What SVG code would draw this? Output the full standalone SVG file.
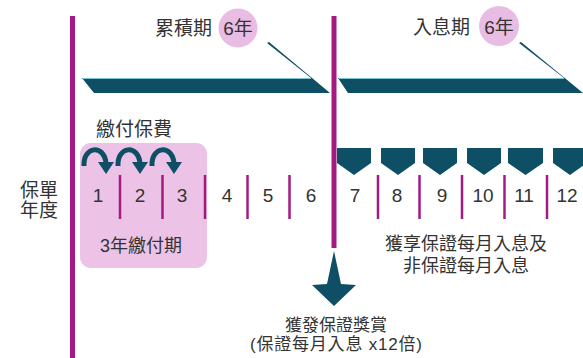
<svg xmlns="http://www.w3.org/2000/svg" width="583" height="358" viewBox="0 0 583 358">
<defs>
<style>
text{font-family:"Liberation Sans","Noto Sans CJK TC",sans-serif;fill:#333;}
.lbl{font-size:19px;}
.num{font-size:19px;text-anchor:middle;}
.cap{font-size:18px;text-anchor:middle;}
.cap2{font-size:17px;text-anchor:middle;}
.teal{fill:#0e4f66;}
.mag{fill:#a31a82;}
.tick{stroke:#a31a82;stroke-width:2.5;}
.circ{fill:#e9bde3;}
.carc{fill:none;stroke:#0e4f66;stroke-width:5;}
</style>
</defs>
<rect width="583" height="358" fill="#fff"/>

<g id="payment-period">
<rect x="80" y="143" width="127" height="125" rx="11" fill="#ecc3e6"/>
<text class="cap" x="141" y="252">3年繳付期</text>
</g>

<g id="timeline-lines">
<rect class="mag" x="70" y="16" width="5" height="342"/>
<rect class="mag" x="331.5" y="16" width="5" height="232"/>
</g>

<g id="accumulation-bar">
<polygon class="teal" points="82,78 311,78 267,43 269,42 330,93 94,93"/>
<line x1="83" y1="78.5" x2="311" y2="78.5" stroke="#7ec3d3" stroke-width="1"/>
<circle class="circ" cx="238" cy="28" r="19.5"/>
<text class="lbl" x="155" y="35">累積期</text>
<text class="lbl" x="238" y="35" text-anchor="middle">6年</text>
</g>

<g id="income-bar">
<polygon class="teal" points="338,78 564,78 519,43 521,42 583,93 348,93"/>
<line x1="339" y1="78.5" x2="564" y2="78.5" stroke="#7ec3d3" stroke-width="1"/>
<circle class="circ" cx="499" cy="26" r="20"/>
<text class="lbl" x="413" y="34">入息期</text>
<text class="lbl" x="499" y="34" text-anchor="middle">6年</text>
</g>

<g id="premium-label">
<text class="lbl" x="96" y="136">繳付保費</text>
</g>

<g id="connectors">
<g id="pay-arrow-1">
<path class="carc" d="M84,166 C83,146 104,144 106,163"/>
<polygon class="teal" points="98,162 114,162 106,174"/>
</g>
<g id="pay-arrow-2" transform="translate(34,0)">
<path class="carc" d="M84,166 C83,146 104,144 106,163"/>
<polygon class="teal" points="98,162 114,162 106,174"/>
</g>
<g id="pay-arrow-3" transform="translate(68,0)">
<path class="carc" d="M84,166 C83,146 104,144 106,163"/>
<polygon class="teal" points="98,162 114,162 106,174"/>
</g>
<polygon id="bonus-arrow" class="teal" points="334,251 341,284 356,285 334,306 312,285 327,284"/>
</g>

<g id="year-axis">
<text class="lbl" x="20" y="197">保單</text>
<text class="lbl" x="20" y="217">年度</text>
<line class="tick" x1="120" y1="175" x2="120" y2="219"/>
<line class="tick" x1="162.5" y1="175" x2="162.5" y2="219"/>
<line class="tick" x1="205" y1="175" x2="205" y2="219"/>
<line class="tick" x1="247.5" y1="175" x2="247.5" y2="219"/>
<line class="tick" x1="289.5" y1="175" x2="289.5" y2="219"/>
<line class="tick" x1="378" y1="175" x2="378" y2="219"/>
<line class="tick" x1="419.5" y1="175" x2="419.5" y2="219"/>
<line class="tick" x1="462" y1="175" x2="462" y2="219"/>
<line class="tick" x1="504.5" y1="175" x2="504.5" y2="219"/>
<line class="tick" x1="547" y1="175" x2="547" y2="219"/>
<text class="num" x="98" y="202">1</text>
<text class="num" x="140" y="202">2</text>
<text class="num" x="182" y="202">3</text>
<text class="num" x="227" y="202">4</text>
<text class="num" x="268" y="202">5</text>
<text class="num" x="311" y="202">6</text>
<text class="num" x="355" y="202">7</text>
<text class="num" x="397" y="202">8</text>
<text class="num" x="442" y="202">9</text>
<text class="num" x="483" y="202">10</text>
<text class="num" x="524" y="202">11</text>
<text class="num" x="567" y="202">12</text>
</g>

<g id="income-markers">
<polygon class="teal" points="337,148 371,148 371,163 354,175 337,163"/>
<polygon class="teal" points="381,148 415,148 415,163 398,175 381,163"/>
<polygon class="teal" points="423,148 457,148 457,163 440,175 423,163"/>
<polygon class="teal" points="467,148 501,148 501,163 484,175 467,163"/>
<polygon class="teal" points="508,148 543,148 543,163 525.5,175 508,163"/>
<polygon class="teal" points="553,148 587,148 587,163 570,175 553,163"/>
</g>

<g id="income-caption">
<text class="cap" x="466" y="250">獲享保證每月入息及</text>
<text class="cap" x="466" y="272">非保證每月入息</text>
</g>

<g id="bonus-caption">
<text class="cap2" x="336" y="331">獲發保證獎賞</text>
<text class="cap2" x="336" y="350" textLength="172" lengthAdjust="spacing">(保證每月入息 x12倍)</text>
</g>
</svg>
